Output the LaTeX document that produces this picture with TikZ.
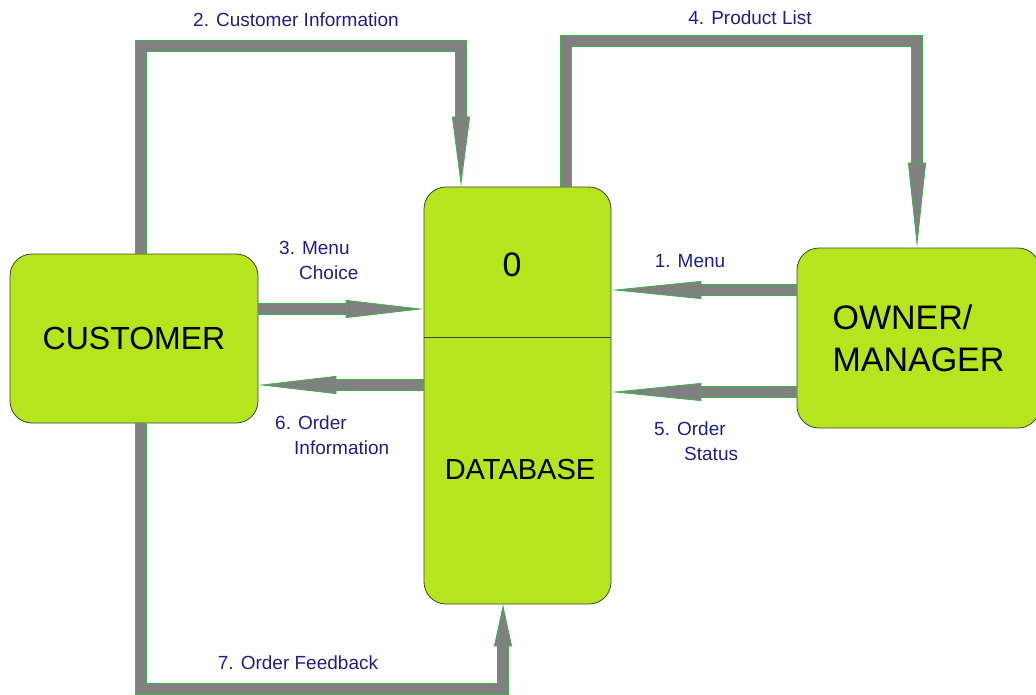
\documentclass[tikz,border=0pt]{standalone}
\usepackage{fontspec}
\setmainfont{Liberation Sans}
\usetikzlibrary{arrows.meta,positioning,calc}
\definecolor{Lime}{HTML}{B5E61D}
\definecolor{FlowGray}{HTML}{808080}
\definecolor{FlowGreen}{HTML}{3CB44B}
\definecolor{InkBlue}{HTML}{1E1E8C}

\begin{document}
\begin{tikzpicture}[x=1pt,y=-1pt,
  entity/.style={draw=black!75,fill=Lime,line width=0.8pt,rounded corners=22pt,inner sep=0pt},
  flow/.style={preaction={draw=FlowGreen,line width=12pt,arrows=-,shorten >=#1},
    draw=FlowGray,line width=10pt,line join=miter,
    -{Triangle[length=#1,width=18pt,color=FlowGreen,fill=FlowGray,line width=0.8pt]}},
  lbl/.style={font=\fontsize{19}{25}\selectfont,text=InkBlue,inner sep=0pt,align=left}]
  \useasboundingbox (0,0) rectangle (1036,695);

  \node[entity,minimum width=248pt,minimum height=169pt,font=\fontsize{32}{40}\selectfont] (cust) at (134,338.5) {CUSTOMER};
  \node[entity,minimum width=187pt,minimum height=417pt] (db) at (517.5,395.5) {};
  \node[entity,minimum width=243pt,minimum height=180pt,align=left,font=\fontsize{34}{42}\selectfont] (owner) at (918.5,338) {OWNER/\\MANAGER};
  \draw[black!75,line width=0.8pt] (db.west |- 0,337) -- (db.east |- 0,337);
  \node[font=\fontsize{34}{40}\selectfont] (dbnum) at (512,265) {0};
  \node[font=\fontsize{29}{36}\selectfont] (dbname) at (520,470) {DATABASE};

  \draw[flow=70pt] (cust.north -| 141,0) |- (461,46) -- (db.north -| 461,0);
  \draw[flow=85pt] (db.north -| 566,0) |- (917,41) -- (owner.north -| 917,0);
  \draw[flow=78pt] (cust.east |- 0,309) -- (db.west |- 0,309);
  \draw[flow=78pt] (db.west |- 0,385) -- (cust.east |- 0,385);
  \draw[flow=90pt] (owner.west |- 0,290) -- (db.east |- 0,290);
  \draw[flow=90pt] (owner.west |- 0,392) -- (db.east |- 0,392);
  \draw[flow=42pt] (cust.south -| 141,0) |- (503,689) -- (db.south -| 503,0);

  \node[lbl] (l2) at (296,20) {2. Customer Information};
  \node[lbl] (l4) at (750,18) {4. Product List};
  \node[lbl,anchor=west] (l3) at (279,260.5) {3. Menu\\\hspace*{20pt}Choice};
  \node[lbl,anchor=west] (l6) at (275,435) {6. Order\\\hspace*{19pt}Information};
  \node[lbl] (l1) at (690,261) {1. Menu};
  \node[lbl,anchor=west] (l5) at (654,441.5) {5. Order\\\hspace*{30pt}Status};
  \node[lbl] (l7) at (298,663) {7. Order Feedback};
\end{tikzpicture}
\end{document}
